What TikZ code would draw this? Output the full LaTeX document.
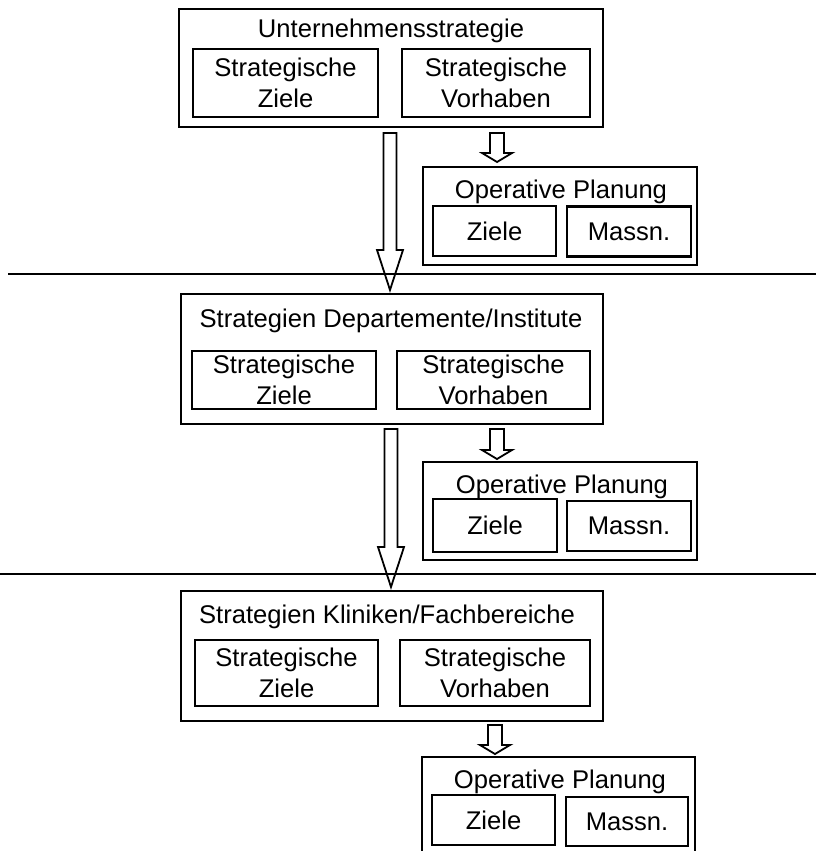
\documentclass[tikz,border=0pt]{standalone}
\usepackage{fontspec}
\setmainfont{Liberation Sans}
\usetikzlibrary{calc}
\newcommand\blockarr[5]{%
  \draw[blockarrow] let \p1=(#1), \p2=(#2) in
   (\x1-#3,\y1) -- (\x1+#3,\y1) -- (\x1+#3,\y2+#5) -- (\x1+#4,\y2+#5) --
   (\x1,\y2) -- (\x1-#4,\y2+#5) -- (\x1-#3,\y2+#5) -- cycle;}
\tikzset{
  outerbox/.style={draw, line width=2.6pt, inner sep=0pt, outer sep=0pt},
  innerbox/.style={draw, line width=2.6pt, inner sep=0pt, outer sep=0pt, align=center,
    font=\fontsize{25.6}{31}\selectfont},
  titletext/.style={anchor=base, inner sep=0pt, font=\fontsize{25.6}{31}\selectfont},
  blockarrow/.style={line width=1.8pt, line join=miter},
  divider/.style={line width=2pt},
}
\begin{document}
\begin{tikzpicture}[x=1pt, y=-1pt]
\clip (0,0) rectangle (816,851);
% ---- level 1
\node[outerbox, minimum width=424pt, minimum height=118pt] (S1) at (391,68) {};
\node[titletext] (S1t) at (391,38) {Unternehmensstrategie};
\node[innerbox, minimum width=185pt, minimum height=68pt] (SZ1) at (285.5,83) {Strategische\\Ziele};
\node[innerbox, minimum width=188pt, minimum height=68pt] (SV1) at (496,83) {Strategische\\Vorhaben};
\node[outerbox, minimum width=274pt, minimum height=98pt] (O1) at (560,216) {};
\node[titletext] (O1t) at (561,198) {Operative Planung};
\node[innerbox, minimum width=123pt, minimum height=50pt] (Z1) at (494.5,231) {Ziele};
\node[innerbox, minimum width=124pt, minimum height=50pt] (M1) at (629,231.5) {Massn.};
% ---- level 2
\node[outerbox, minimum width=422pt, minimum height=130pt] (S2) at (392,359) {};
\node[titletext] (S2t) at (391,327) {Strategien Departemente/Institute};
\node[innerbox, minimum width=184pt, minimum height=58pt] (SZ2) at (284,380) {Strategische\\Ziele};
\node[innerbox, minimum width=193pt, minimum height=58pt] (SV2) at (493.5,380) {Strategische\\Vorhaben};
\node[outerbox, minimum width=274pt, minimum height=98pt] (O2) at (560,511) {};
\node[titletext] (O2t) at (562,493) {Operative Planung};
\node[innerbox, minimum width=124pt, minimum height=53pt] (Z2) at (495,525.5) {Ziele};
\node[innerbox, minimum width=124pt, minimum height=50pt] (M2) at (629,526) {Massn.};
% ---- level 3
\node[outerbox, minimum width=422pt, minimum height=130pt] (S3) at (392,656) {};
\node[titletext] (S3t) at (387,623) {Strategien Kliniken/Fachbereiche};
\node[innerbox, minimum width=183pt, minimum height=66pt] (SZ3) at (286.5,673) {Strategische\\Ziele};
\node[innerbox, minimum width=190pt, minimum height=66pt] (SV3) at (495,673) {Strategische\\Vorhaben};
\node[outerbox, minimum width=273pt, minimum height=101pt] (O3) at (558.5,807.5) {};
\node[titletext] (O3t) at (560,788) {Operative Planung};
\node[innerbox, minimum width=123pt, minimum height=50pt] (Z3) at (493.5,820) {Ziele};
\node[innerbox, minimum width=122pt, minimum height=49pt] (M3) at (627,821.5) {Massn.};
% ---- arrow end points
\coordinate (a1s) at ($(S1.south)+(-1,6)$);
\coordinate (a1e) at ($(S2.north)+(0,-4)$);
\coordinate (a2s) at ($(S2.south)+(-1,5)$);
\coordinate (a2e) at ($(S3.north)+(0,-4)$);
\coordinate (b1s) at ($(S1.south)+(106,6)$);
\coordinate (b1e) at ($(O1.north)+(0,-5)$);
\coordinate (b2s) at ($(S2.south)+(105,5)$);
\coordinate (b2e) at ($(O2.north)+(0,-3)$);
\coordinate (b3s) at ($(S3.south)+(103,4)$);
\coordinate (b3e) at ($(O3.north)+(0,-3)$);
\blockarr{a1s}{a1e}{6.5pt}{13pt}{40pt}
\blockarr{a2s}{a2e}{6.5pt}{13pt}{40pt}
\blockarr{b1s}{b1e}{7pt}{15pt}{9pt}
\blockarr{b2s}{b2e}{7pt}{15pt}{9pt}
\blockarr{b3s}{b3e}{7pt}{15pt}{9pt}
% ---- dividers
\coordinate (L1a) at (8,274);
\coordinate (L1b) at (816,274);
\coordinate (L2a) at (0,574);
\coordinate (L2b) at (816,574);
\draw[divider] (L1a) -- (L1b);
\draw[divider] (L2a) -- (L2b);
\end{tikzpicture}
\end{document}
